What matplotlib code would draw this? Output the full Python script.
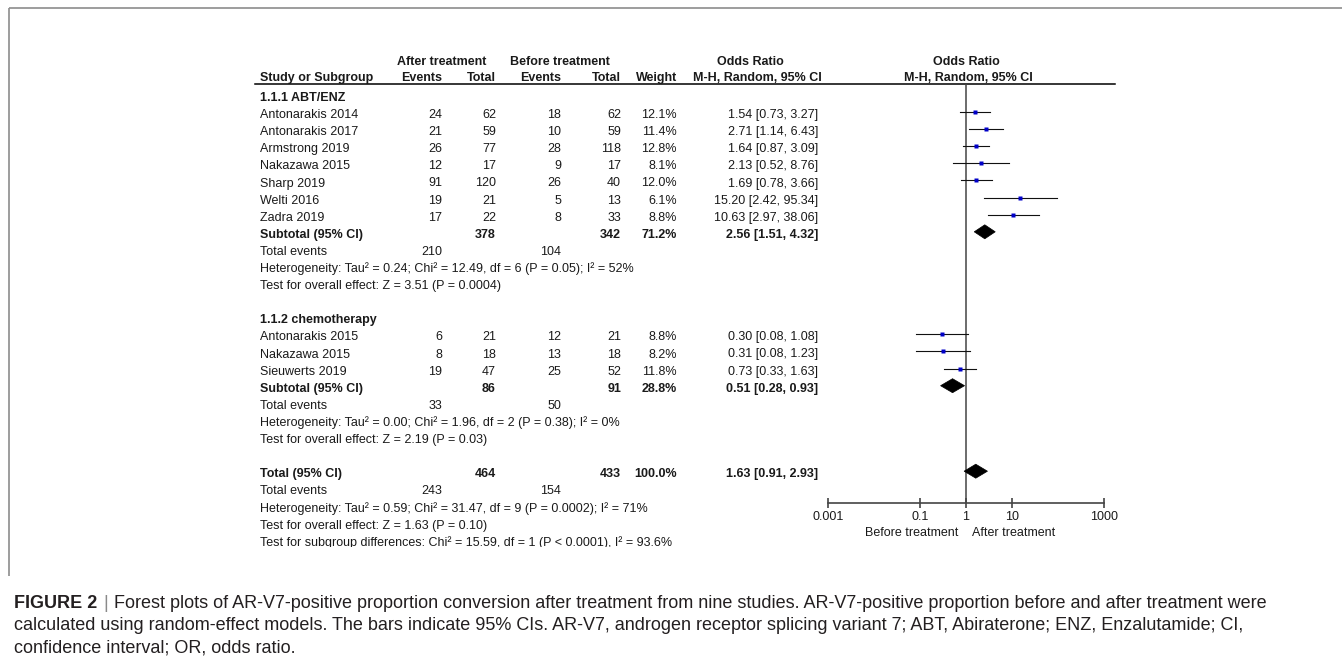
import matplotlib

matplotlib.use('Agg')
import matplotlib.pyplot as plt
from matplotlib.patches import Polygon, Rectangle
from matplotlib.ticker import NullLocator

plt.rcParams['font.family'] = ['Liberation Sans', 'DejaVu Sans']

# --- study data -------------------------------------------------------------
studies_abt = ["Antonarakis 2014", "Antonarakis 2017", "Armstrong 2019", "Nakazawa 2015",
               "Sharp 2019", "Welti 2016", "Zadra 2019"]
after_events_abt = [24, 21, 26, 12, 91, 19, 17]
after_total_abt = [62, 59, 77, 17, 120, 21, 22]
before_events_abt = [18, 10, 28, 9, 26, 5, 8]
before_total_abt = [62, 59, 118, 17, 40, 13, 33]
weight_abt = [12.1, 11.4, 12.8, 8.1, 12.0, 6.1, 8.8]
or_abt = [1.54, 2.71, 1.64, 2.13, 1.69, 15.20, 10.63]
lo_abt = [0.73, 1.14, 0.87, 0.52, 0.78, 2.42, 2.97]
hi_abt = [3.27, 6.43, 3.09, 8.76, 3.66, 95.34, 38.06]

studies_chemo = ["Antonarakis 2015", "Nakazawa 2015", "Sieuwerts 2019"]
after_events_chemo = [6, 8, 19]
after_total_chemo = [21, 18, 47]
before_events_chemo = [12, 13, 25]
before_total_chemo = [21, 18, 52]
weight_chemo = [8.8, 8.2, 11.8]
or_chemo = [0.30, 0.31, 0.73]
lo_chemo = [0.08, 0.08, 0.33]
hi_chemo = [1.08, 1.23, 1.63]

subgroup_titles = ["1.1.1 ABT/ENZ", "1.1.2 chemotherapy"]
sub_after_total = [378, 86]
sub_before_total = [342, 91]
sub_weight = [71.2, 28.8]
sub_or = [2.56, 0.51]
sub_lo = [1.51, 0.28]
sub_hi = [4.32, 0.93]
sub_after_events = [210, 33]
sub_before_events = [104, 50]
sub_heterogeneity = ["Heterogeneity: Tau\u00b2 = 0.24; Chi\u00b2 = 12.49, df = 6 (P = 0.05); I\u00b2 = 52%",
                     "Heterogeneity: Tau\u00b2 = 0.00; Chi\u00b2 = 1.96, df = 2 (P = 0.38); I\u00b2 = 0%"]
sub_overall = ["Test for overall effect: Z = 3.51 (P = 0.0004)",
               "Test for overall effect: Z = 2.19 (P = 0.03)"]

total_after_total = 464
total_before_total = 433
total_weight = 100.0
total_or = 1.63
total_lo = 0.91
total_hi = 2.93
total_after_events = 243
total_before_events = 154
total_notes = ["Heterogeneity: Tau\u00b2 = 0.59; Chi\u00b2 = 31.47, df = 9 (P = 0.0002); I\u00b2 = 71%",
               "Test for overall effect: Z = 1.63 (P = 0.10)",
               "Test for subgroup differences: Chi\u00b2 = 15.59, df = 1 (P < 0.0001), I\u00b2 = 93.6%"]

axis_ticks = [0.001, 0.1, 1, 10, 1000]
axis_labels = ["0.001", "0.1", "1", "10", "1000"]

caption_lines = [
    "Forest plots of AR-V7-positive proportion conversion after treatment from nine studies. "
    "AR-V7-positive proportion before and after treatment were",
    "calculated using random-effect models. The bars indicate 95% CIs. AR-V7, androgen receptor "
    "splicing variant 7; ABT, Abiraterone; ENZ, Enzalutamide; CI,",
    "confidence interval; OR, odds ratio.",
]

subgroups = [
    dict(names=studies_abt, ae=after_events_abt, at=after_total_abt, be=before_events_abt,
         bt=before_total_abt, w=weight_abt, est=or_abt, lo=lo_abt, hi=hi_abt),
    dict(names=studies_chemo, ae=after_events_chemo, at=after_total_chemo, be=before_events_chemo,
         bt=before_total_chemo, w=weight_chemo, est=or_chemo, lo=lo_chemo, hi=hi_chemo),
]

# --- layout (pixels) --------------------------------------------------------
W, H = 1342, 662
COL_NAME, COL_AE, COL_AT, COL_BE, COL_BT, COL_W, COL_OR = 260, 442, 496, 561, 621, 677, 818
ROW0, ROW_H = 98, 17.1
AXIS_Y, TOP_Y = 503, 84
FS = 9
INK = '#1a1a1a'


def ry(i):
    return ROW0 + ROW_H * i


def fmt_or(e, l, h):
    return "%.2f [%.2f, %.2f]" % (e, l, h)


fig = plt.figure(figsize=(W / 100, H / 100), dpi=100)
ax = fig.add_axes([0, 0, 1, 1])
ax.set_xlim(0, W)
ax.set_ylim(H, 0)
ax.axis('off')

fx = fig.add_axes([828 / W, 1 - AXIS_Y / H, 276 / W, (AXIS_Y - TOP_Y) / H])
fx.set_xscale('log')
fx.set_xlim(1e-3, 1e3)
fx.set_ylim(AXIS_Y, TOP_Y)
fx.patch.set_alpha(0)
for s in ('top', 'left', 'right'):
    fx.spines[s].set_visible(False)
fx.spines['bottom'].set_color('#444444')
fx.spines['bottom'].set_linewidth(1.2)
fx.set_yticks([])
fx.set_xticks(axis_ticks)
fx.set_xticklabels(axis_labels)
fx.xaxis.set_minor_locator(NullLocator())
fx.tick_params(axis='x', direction='inout', length=7, width=1.2, color='#444444',
               pad=2.5, labelsize=FS, labelcolor=INK)
fx.axvline(1, color='#444444', lw=1.1, zorder=1)


def txt(x, y, s, ha='left', bold=False, **kw):
    ax.text(x, y, s, ha=ha, va='center', fontsize=FS, color=INK,
            fontweight='bold' if bold else 'normal', **kw)


def diamond(e, l, h, y):
    fx.add_patch(Polygon([(l, y), (e, y - 7), (h, y), (e, y + 7)], closed=True,
                         facecolor='black', edgecolor='black', lw=0.5, clip_on=False))


# header
txt(442, 62, "After treatment", ha='center', bold=True)
txt(560, 62, "Before treatment", ha='center', bold=True)
txt(750, 62, "Odds Ratio", ha='center', bold=True)
txt(966, 62, "Odds Ratio", ha='center', bold=True)
txt(COL_NAME, 78, "Study or Subgroup", bold=True)
txt(COL_AE, 78, "Events", ha='right', bold=True)
txt(COL_AT, 78, "Total", ha='right', bold=True)
txt(COL_BE, 78, "Events", ha='right', bold=True)
txt(COL_BT, 78, "Total", ha='right', bold=True)
txt(COL_W, 78, "Weight", ha='right', bold=True)
txt(757, 78, "M-H, Random, 95% CI", ha='center', bold=True)
txt(968, 78, "M-H, Random, 95% CI", ha='center', bold=True)
ax.plot([255, 1115], [TOP_Y, TOP_Y], color='black', lw=1.1)

row = 0
for g, sg in enumerate(subgroups):
    txt(COL_NAME, ry(row), subgroup_titles[g], bold=True)
    row += 1
    for k, name in enumerate(sg['names']):
        y = ry(row)
        txt(COL_NAME, y, name)
        txt(COL_AE, y, str(sg['ae'][k]), ha='right')
        txt(COL_AT, y, str(sg['at'][k]), ha='right')
        txt(COL_BE, y, str(sg['be'][k]), ha='right')
        txt(COL_BT, y, str(sg['bt'][k]), ha='right')
        txt(COL_W, y, "%.1f%%" % sg['w'][k], ha='right')
        txt(COL_OR, y, fmt_or(sg['est'][k], sg['lo'][k], sg['hi'][k]), ha='right')
        ym = y - 3
        fx.plot([sg['lo'][k], sg['hi'][k]], [ym, ym], color='#111111', lw=0.8, clip_on=False)
        # square side grows with study weight
        side = 1.3 * sg['w'][k] ** 0.5
        fx.plot(sg['est'][k], ym, marker='s', ms=side * 0.72, color='#0000c8', mec='none',
                clip_on=False)
        row += 1
    y = ry(row)
    txt(COL_NAME, y, "Subtotal (95% CI)", bold=True)
    txt(COL_AT, y, str(sub_after_total[g]), ha='right', bold=True)
    txt(COL_BT, y, str(sub_before_total[g]), ha='right', bold=True)
    txt(COL_W, y, "%.1f%%" % sub_weight[g], ha='right', bold=True)
    txt(COL_OR, y, fmt_or(sub_or[g], sub_lo[g], sub_hi[g]), ha='right', bold=True)
    diamond(sub_or[g], sub_lo[g], sub_hi[g], y - 3)
    row += 1
    y = ry(row)
    txt(COL_NAME, y, "Total events")
    txt(COL_AE, y, str(sub_after_events[g]), ha='right')
    txt(COL_BE, y, str(sub_before_events[g]), ha='right')
    txt(COL_NAME, ry(row + 1), sub_heterogeneity[g])
    txt(COL_NAME, ry(row + 2), sub_overall[g])
    row += 4

# overall total
y = ry(row)
txt(COL_NAME, y, "Total (95% CI)", bold=True)
txt(COL_AT, y, str(total_after_total), ha='right', bold=True)
txt(COL_BT, y, str(total_before_total), ha='right', bold=True)
txt(COL_W, y, "%.1f%%" % total_weight, ha='right', bold=True)
txt(COL_OR, y, fmt_or(total_or, total_lo, total_hi), ha='right', bold=True)
diamond(total_or, total_lo, total_hi, y - 3)
row += 1
y = ry(row)
txt(COL_NAME, y, "Total events")
txt(COL_AE, y, str(total_after_events), ha='right')
txt(COL_BE, y, str(total_before_events), ha='right')
for j, note in enumerate(total_notes):
    txt(COL_NAME, ry(row + 1 + j), note)

# the exported panel cuts off the last line
ax.add_patch(Rectangle((240, 547), 600, 25, facecolor='white', edgecolor='none', zorder=10))

txt(958, 533, "Before treatment", ha='right')
txt(972, 533, "After treatment", ha='left')

# panel frame (top and left only)
ax.plot([9, W], [8, 8], color='#8c8c8c', lw=1.2, solid_capstyle='butt')
ax.plot([9, 9], [8, 576], color='#8c8c8c', lw=1.2, solid_capstyle='butt')

# caption
CAP_FS = 13
CAP_Y = [603, 625, 648]
r = fig.canvas.get_renderer()
t = ax.text(14, CAP_Y[0], "FIGURE 2", fontsize=CAP_FS, fontweight='bold', color='#231f20',
            va='center')
x = t.get_window_extent(r).x1 + 6
t = ax.text(x, CAP_Y[0], "|", fontsize=CAP_FS, color='#8a8a8a', va='center')
x = t.get_window_extent(r).x1 + 6
ax.text(x, CAP_Y[0], caption_lines[0], fontsize=CAP_FS, color='#231f20', va='center')
ax.text(14, CAP_Y[1], caption_lines[1], fontsize=CAP_FS, color='#231f20', va='center')
ax.text(14, CAP_Y[2], caption_lines[2], fontsize=CAP_FS, color='#231f20', va='center')

fig.savefig('out.png', dpi=100, facecolor='white')
